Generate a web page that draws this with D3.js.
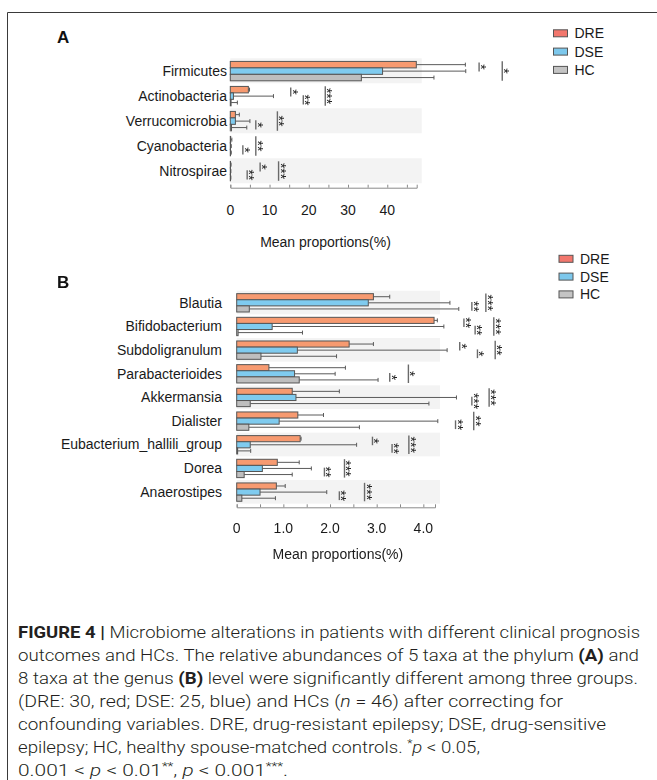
<!DOCTYPE html>
<html>
<head>
<meta charset="utf-8">
<script src="https://cdn.jsdelivr.net/npm/d3@7"></script>
<style>
  html, body { margin: 0; padding: 0; background: #fff; }
  svg { display: block; }
  .stars { filter: grayscale(1); }
</style>
</head>
<body>
<svg id="fig" width="657" height="780"></svg>
<script>
// ---- data ---------------------------------------------------------------
const groups = ["DRE", "DSE", "HC"];

// Phylum level (A): mean proportion (%) and SD (whisker = mean + SD)
const phylumCats = ["Firmicutes", "Actinobacteria", "Verrucomicrobia", "Cyanobacteria", "Nitrospirae"];
const phylumDRE = [47.4, 4.6, 1.3, 0.10, 0.05];
const phylumDSE = [38.8, 0.8, 1.3, 0.05, 0.05];
const phylumHC  = [33.4, 0.2, 0.3, 0.05, 0.05];
const phylumDRE_sd = [12.5, 0.3, 1.0, 0.30, 0.15];
const phylumDSE_sd = [21.2, 10.2, 3.7, 0.20, 0.10];
const phylumHC_sd  = [18.5, 1.6, 3.9, 0.20, 0.10];
const phylumTicks = [0, 5, 10, 15, 20, 25, 30, 35, 40, 45];
const phylumTickLabels = ["0", "10", "20", "30", "40"];

// Genus level (B)
const genusCats = ["Blautia", "Bifidobacterium", "Subdoligranulum", "Parabacterioides", "Akkermansia",
                   "Dialister", "Eubacterium_hallili_group", "Dorea", "Anaerostipes"];
const genusDRE = [2.93, 4.23, 2.41, 0.69, 1.19, 1.31, 1.36, 0.87, 0.85];
const genusDSE = [2.82, 0.76, 1.30, 1.24, 1.27, 0.91, 0.29, 0.55, 0.50];
const genusHC  = [0.27, 0.03, 0.52, 1.34, 0.29, 0.26, 0.02, 0.16, 0.11];
const genusDRE_sd = [0.35, 0.07, 0.52, 1.64, 1.01, 0.55, 0.02, 0.47, 0.19];
const genusDSE_sd = [1.75, 3.68, 3.21, 0.87, 3.44, 3.40, 2.28, 1.05, 1.43];
const genusHC_sd  = [4.49, 1.38, 1.62, 1.69, 3.83, 2.37, 0.28, 1.03, 0.72];
const genusTicks = [0, 0.5, 1, 1.5, 2, 2.5, 3, 3.5, 4];
const genusTickLabels = ["0", "1.0", "2.0", "3.0", "4.0"];

// Significance marks: [category, compared groups, bracket position (axis units), stars]
const phylumSig = [
  ["Firmicutes", "DRE-DSE", 63.4, "*"],
  ["Firmicutes", "DRE-HC", 69.3, "*"],
  ["Actinobacteria", "DRE-DSE", 15.4, "*"],
  ["Actinobacteria", "DSE-HC", 18.6, "**"],
  ["Actinobacteria", "DRE-HC", 24.2, "***"],
  ["Verrucomicrobia", "DSE-HC", 6.5, "*"],
  ["Verrucomicrobia", "DRE-HC", 12.0, "**"],
  ["Cyanobacteria", "DSE-HC", 3.2, "*"],
  ["Cyanobacteria", "DRE-HC", 6.5, "**"],
  ["Nitrospirae", "DSE-HC", 4.3, "**"],
  ["Nitrospirae", "DRE-DSE", 7.6, "*"],
  ["Nitrospirae", "DRE-HC", 12.3, "***"]
];
const genusSig = [
  ["Blautia", "DSE-HC", 5.04, "**"],
  ["Blautia", "DRE-HC", 5.34, "***"],
  ["Bifidobacterium", "DRE-DSE", 4.87, "**"],
  ["Bifidobacterium", "DSE-HC", 5.11, "**"],
  ["Bifidobacterium", "DRE-HC", 5.51, "***"],
  ["Subdoligranulum", "DRE-DSE", 4.78, "*"],
  ["Subdoligranulum", "DSE-HC", 5.16, "*"],
  ["Subdoligranulum", "DRE-HC", 5.54, "**"],
  ["Parabacterioides", "DSE-HC", 3.28, "*"],
  ["Parabacterioides", "DRE-HC", 3.68, "*"],
  ["Akkermansia", "DSE-HC", 5.04, "***"],
  ["Akkermansia", "DRE-HC", 5.41, "***"],
  ["Dialister", "DSE-HC", 4.69, "**"],
  ["Dialister", "DRE-HC", 5.08, "**"],
  ["Eubacterium_hallili_group", "DRE-DSE", 2.91, "*"],
  ["Eubacterium_hallili_group", "DSE-HC", 3.33, "**"],
  ["Eubacterium_hallili_group", "DRE-HC", 3.69, "***"],
  ["Dorea", "DSE-HC", 1.88, "**"],
  ["Dorea", "DRE-HC", 2.31, "***"],
  ["Anaerostipes", "DSE-HC", 2.20, "**"],
  ["Anaerostipes", "DRE-HC", 2.74, "***"]
];

// ---- styles -------------------------------------------------------------
const FONT = "'Liberation Sans', Arial, Helvetica, sans-serif";
const barFill = { DRE: "#F79A70", DSE: "#7FCBEF", HC: "#BEBEBE" };
const keyFill = { DRE: "#F2776D", DSE: "#7DC8EC", HC: "#C4C4C4" };
// vertical extent of a comparison bracket, as fractions of the row height
const pairSpan = { "DRE-DSE": [0.17, 0.53], "DSE-HC": [0.48, 0.85], "DRE-HC": [0.12, 0.9] };

const svg = d3.select("#fig");

// figure frame
svg.append("line").attr("x1", 7.5).attr("x2", 657).attr("y1", 12.5).attr("y2", 12.5)
  .attr("stroke", "#3a3a3a").attr("stroke-width", 1);
svg.append("line").attr("x1", 7.5).attr("x2", 7.5).attr("y1", 12.5).attr("y2", 780)
  .attr("stroke", "#3a3a3a").attr("stroke-width", 1);

function drawPanel(cfg) {
  const g = svg.append("g");
  const x = d3.scaleLinear().domain([0, cfg.max]).range([cfg.x0, cfg.x1]);
  const rows = d3.scaleBand().domain(cfg.cats)
    .range([cfg.top, cfg.top + cfg.rowH * cfg.cats.length]);
  const h = rows.bandwidth();
  const inner = d3.scaleBand().domain(groups).range([h * 0.125, h * 0.9]);

  const table = [];
  cfg.cats.forEach((c, i) => groups.forEach(gr => {
    table.push({ cat: c, group: gr, mean: cfg.mean[gr][i], sd: cfg.sd[gr][i] });
  }));

  // alternating row shading
  g.append("g").selectAll("rect")
    .data(cfg.cats.filter((c, i) => i % 2 === 0))
    .join("rect")
    .attr("x", cfg.x0).attr("y", c => rows(c))
    .attr("width", cfg.bandRight - cfg.x0).attr("height", h)
    .attr("fill", "#F3F3F3");

  // category labels
  g.append("g").selectAll("text").data(cfg.cats).join("text")
    .attr("x", cfg.labelRight).attr("y", c => rows(c) + h / 2 + 5)
    .attr("text-anchor", "end")
    .attr("font-family", FONT).attr("font-size", 14).attr("fill", "#1a1a1a")
    .text(c => c);

  // error whiskers (mean to mean + SD)
  const wg = g.append("g").attr("stroke", "#5a5a5a").attr("stroke-width", 1);
  wg.selectAll("line.w").data(table).join("line")
    .attr("x1", d => x(d.mean)).attr("x2", d => x(d.mean + d.sd))
    .attr("y1", d => rows(d.cat) + inner(d.group) + inner.bandwidth() / 2)
    .attr("y2", d => rows(d.cat) + inner(d.group) + inner.bandwidth() / 2);
  wg.selectAll("line.c").data(table).join("line")
    .attr("x1", d => x(d.mean + d.sd)).attr("x2", d => x(d.mean + d.sd))
    .attr("y1", d => rows(d.cat) + inner(d.group) + inner.bandwidth() / 2 - 2)
    .attr("y2", d => rows(d.cat) + inner(d.group) + inner.bandwidth() / 2 + 2);

  // bars
  g.append("g").selectAll("rect").data(table).join("rect")
    .attr("x", x(0)).attr("y", d => rows(d.cat) + inner(d.group))
    .attr("width", d => x(d.mean) - x(0)).attr("height", inner.bandwidth())
    .attr("fill", d => barFill[d.group])
    .attr("stroke", "#555").attr("stroke-width", 1);

  // significance brackets; the stars run downward beside each bracket
  const sg = g.append("g").attr("class", "stars");
  cfg.sig.forEach(([cat, pair, at, stars]) => {
    const span = pairSpan[pair];
    const y0 = rows(cat) + span[0] * h, y1 = rows(cat) + span[1] * h;
    const bx = x(at);
    sg.append("line").attr("x1", bx).attr("x2", bx).attr("y1", y0).attr("y2", y1)
      .attr("stroke", "#6a6a6a").attr("stroke-width", 1.4);
    sg.append("text")
      .attr("transform", `translate(${bx - 3},${(y0 + y1) / 2}) rotate(90)`)
      .attr("text-anchor", "middle")
      .attr("font-family", FONT).attr("font-size", 14).attr("fill", "#222")
      .text(stars);
  });

  // x axis with inward ticks
  const axis = d3.axisBottom(x).tickValues(cfg.ticks).tickSize(-3).tickSizeOuter(-3).tickFormat("");
  const ag = g.append("g").attr("transform", `translate(0,${cfg.axisY})`).call(axis);
  ag.select(".domain").attr("stroke", "#8a8a8a");
  ag.selectAll(".tick line").attr("stroke", "#8a8a8a");

  g.append("g").selectAll("text").data(cfg.tickLabels).join("text")
    .attr("x", t => x(+t)).attr("y", cfg.tickLabelY)
    .attr("text-anchor", "middle")
    .attr("font-family", FONT).attr("font-size", 14).attr("fill", "#1a1a1a")
    .text(t => t);

  g.append("text")
    .attr("x", (cfg.x0 + cfg.x1) / 2 + 2).attr("y", cfg.titleY)
    .attr("text-anchor", "middle")
    .attr("font-family", FONT).attr("font-size", 14).attr("fill", "#1a1a1a")
    .text("Mean proportions(%)");

  // panel letter
  g.append("text").attr("x", cfg.letterX).attr("y", cfg.letterY)
    .attr("font-family", FONT).attr("font-size", 17).attr("font-weight", "bold")
    .attr("fill", "#111").text(cfg.letter);

  // legend
  const lg = g.append("g").selectAll("g").data(groups).join("g")
    .attr("transform", (d, i) => `translate(${cfg.keyX},${cfg.keyY + i * cfg.keyStep})`);
  lg.append("rect").attr("x", 0).attr("y", -3.5).attr("width", 14).attr("height", 7)
    .attr("fill", d => keyFill[d]).attr("stroke", "#555").attr("stroke-width", 1);
  lg.append("text").attr("x", 21).attr("y", 5)
    .attr("font-family", FONT).attr("font-size", 14).attr("fill", "#1a1a1a")
    .text(d => d);
}

drawPanel({
  letter: "A", letterX: 57, letterY: 43,
  cats: phylumCats,
  mean: { DRE: phylumDRE, DSE: phylumDSE, HC: phylumHC },
  sd: { DRE: phylumDRE_sd, DSE: phylumDSE_sd, HC: phylumHC_sd },
  sig: phylumSig,
  max: 47.5, x0: 230.3, x1: 416.7, bandRight: 421.7,
  top: 58.3, rowH: 25, labelRight: 227,
  axisY: 187.7, ticks: phylumTicks, tickLabels: phylumTickLabels,
  tickLabelY: 215, titleY: 246.5,
  keyX: 553.5, keyY: 33.3, keyStep: 18.3
});

drawPanel({
  letter: "B", letterX: 57, letterY: 288,
  cats: genusCats,
  mean: { DRE: genusDRE, DSE: genusDSE, HC: genusHC },
  sd: { DRE: genusDRE_sd, DSE: genusDSE_sd, HC: genusHC_sd },
  sig: genusSig,
  max: 4.25, x0: 236.7, x1: 435, bandRight: 440,
  top: 290.7, rowH: 23.66, labelRight: 222,
  axisY: 507.3, ticks: genusTicks, tickLabels: genusTickLabels,
  tickLabelY: 532.7, titleY: 558.5,
  keyX: 559, keyY: 258.8, keyStep: 17.8
});

// ---- caption ------------------------------------------------------------
// segments: [text, style]  b = bold, i = italic, s = superscript
const captionLines = [
  [["FIGURE 4 | ", "b"], ["Microbiome alterations in patients with different clinical prognosis", ""]],
  [["outcomes and HCs. The relative abundances of 5 taxa at the phylum ", ""], ["(A)", "b"], [" and", ""]],
  [["8 taxa at the genus ", ""], ["(B)", "b"], [" level were significantly different among three groups.", ""]],
  [["(DRE: 30, red; DSE: 25, blue) and HCs (", ""], ["n", "i"], [" = 46) after correcting for", ""]],
  [["confounding variables. DRE, drug-resistant epilepsy; DSE, drug-sensitive", ""]],
  [["epilepsy; HC, healthy spouse-matched controls. ", ""], ["*", "s"], ["p", "i"], [" < 0.05,", ""]],
  [["0.001 < ", ""], ["p", "i"], [" < 0.01", ""], ["**", "s"], [", ", ""], ["p", "i"], [" < 0.001", ""], ["***", "s"], [".", ""]]
];
const captionWidths = [622, 621, 620, 545, 588, 462, 270];

const cap = svg.append("g");
captionLines.forEach((segs, i) => {
  const t = cap.append("text")
    .attr("x", 18).attr("y", 637.5 + i * 23)
    .attr("font-family", "Roboto, 'Liberation Sans', Arial, sans-serif")
    .attr("font-weight", 300)
    .attr("font-size", 17).attr("fill", "#231F20")
    .attr("textLength", captionWidths[i]).attr("lengthAdjust", "spacingAndGlyphs");
  let shifted = false;
  segs.forEach(([txt, st]) => {
    const ts = t.append("tspan").text(txt);
    if (st === "b") ts.attr("font-weight", 700);
    if (st === "i") ts.attr("font-style", "italic");
    if (st === "s") { ts.attr("dy", -6).attr("font-size", 11); shifted = true; }
    else if (shifted) { ts.attr("dy", 6); shifted = false; }
  });
});
</script>
</body>
</html>
